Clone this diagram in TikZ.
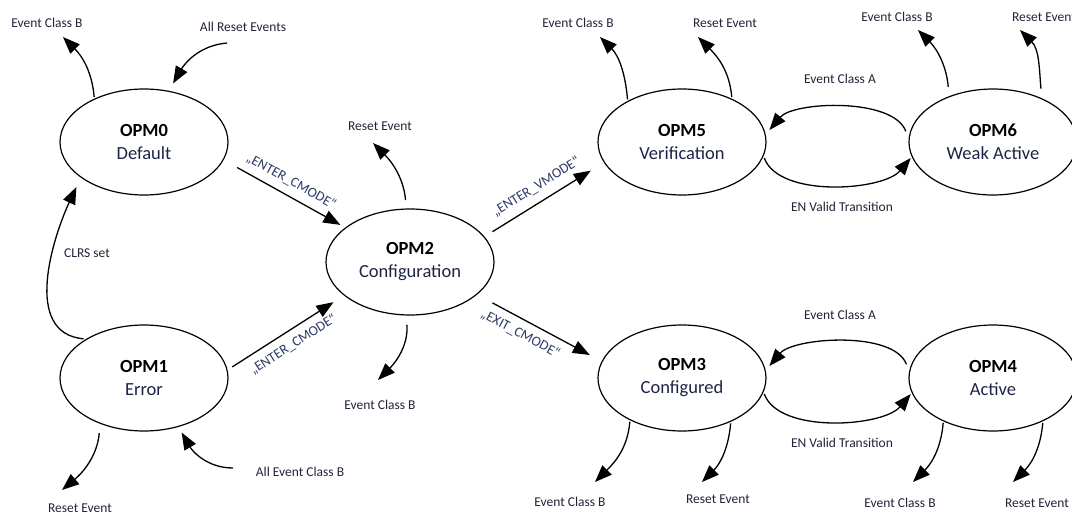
\documentclass[tikz,border=0pt]{standalone}
\usepackage{fontspec}
\setmainfont{Carlito}
\usetikzlibrary{shapes.geometric,arrows.meta}
\definecolor{lblcol}{RGB}{35,35,55}
\definecolor{quotecol}{RGB}{45,58,100}
\definecolor{namecol}{RGB}{30,35,70}
\tikzset{
    every node/.style={font=\fontsize{13.5}{16}\selectfont, text=lblcol}
}
\tikzset{
    state/.style={ellipse, draw, line width=1.2pt, minimum width=168pt,
    	minimum height=106pt, inner sep=0pt, outer sep=2pt, align=center,
    	font=\fontsize{18.5}{23}\selectfont, text=namecol}
}
\tikzset{
    every edge/.append style={line width=1.3pt, -{Triangle[length=17pt,width=13pt]}}
}
\tikzset{
	cmd/.style={sloped, font=\fontsize{14}{16}\selectfont, text=quotecol}
}

\begin{document}
\begin{tikzpicture}[x=1pt, y=-1pt]
	\useasboundingbox (0,0) rectangle (1072,515);
	\node (opm0) [state] at (144,142) {\textcolor{black}{\textbf{OPM0}}\\Default};
	\node (opm1) [state] at (144,378) {\textcolor{black}{\textbf{OPM1}}\\Error};
	\node (opm2) [state] at (410,262) {\textcolor{black}{\textbf{OPM2}}\\Configuration};
	\node (opm5) [state] at (682,142) {\textcolor{black}{\textbf{OPM5}}\\Verification};
	\node (opm6) [state] at (993,142) {\textcolor{black}{\textbf{OPM6}}\\Weak Active};
	\node (opm3) [state] at (682,378) {\textcolor{black}{\textbf{OPM3}}\\Configured};
	\node (opm4) [state] at (993,378) {\textcolor{black}{\textbf{OPM4}}\\Active};

	% free ends of the event arrows
	\coordinate (ecb0) at (63,37);   \coordinate (rst0) at (227,43);
	\coordinate (rst1) at (62,490);  \coordinate (aecb1) at (233,468);
	\coordinate (rst2) at (373,143); \coordinate (ecb2) at (378,380);
	\coordinate (ecb5) at (600,37);  \coordinate (rst5) at (698,37);
	\coordinate (ecb6) at (918,30);  \coordinate (rst6) at (1020,30);
	\coordinate (ecb3) at (595,482); \coordinate (rst3) at (702,482);
	\coordinate (ecb4) at (913,482); \coordinate (rst4) at (1013,482);

	\node (ecb0l) at (47,23) {Event Class B};
	\node (rst0l) at (243,27) {All Reset Events};
	\node (clrsl) at (87,253) {CLRS set};
	\node (rst1l) at (80,508) {Reset Event};
	\node (aecb1l) at (300,472) {All Event Class B};
	\node (rst2l) at (380,126) {Reset Event};
	\node (ecb2l) at (380,405) {Event Class B};
	\node (ecb5l) at (578,23) {Event Class B};
	\node (rst5l) at (725,23) {Reset Event};
	\node (ecb6l) at (897,17) {Event Class B};
	\node (rst6l) at (1044,17) {Reset Event};
	\node (eca5l) at (840,79) {Event Class A};
	\node (env5l) at (842,207) {EN Valid Transition};
	\node (eca3l) at (840,315) {Event Class A};
	\node (env3l) at (842,443) {EN Valid Transition};
	\node (ecb3l) at (570,502) {Event Class B};
	\node (rst3l) at (718,499) {Reset Event};
	\node (ecb4l) at (900,503) {Event Class B};
	\node (rst4l) at (1037,503) {Reset Event};

	\draw (opm0.138) edge [out=95, in=-45] (ecb0);
	\draw (rst0) edge [out=185, in=60, shorten >=7pt] (opm0.64);
	\draw (opm1.147) edge [out=175, in=245, shorten >=9pt] (opm0.210);
	\draw (opm0.-13) edge [shorten <=14pt, shorten >=4pt] node [cmd, above=4pt] {„ENTER\_CMODE“} (opm2.152);
	\draw (opm1.6) edge [shorten <=4pt, shorten >=11pt] node [cmd, below=4pt] {„ENTER\_CMODE“} (opm2.207);
	\draw (opm1.227) edge [out=-95, in=40, shorten <=8pt] (rst1);
	\draw (aecb1) edge [out=180, in=-60, shorten >=5pt] (opm1.-55);
	\draw (opm2.94) edge [out=95, in=-45, shorten <=7pt] (rst2);
	\draw (opm2.266) edge [out=-85, in=45, shorten <=8pt] (ecb2);
	\draw (opm2.19) edge [shorten <=8pt, shorten >=14pt] node [cmd, above=5pt] {„ENTER\_VMODE“} (opm5.195);
	\draw (opm2.-26) edge [shorten <=16pt, shorten >=12pt] node [cmd, below=4pt, pos=0.4] {„EXIT\_CMODE“} (opm3.168);
	\draw (opm5.142) edge [out=95, in=-45] (ecb5);
	\draw (opm5.42) edge [out=95, in=-45] (rst5);
	\draw (opm6.176) edge [out=110, in=50, looseness=0.75, shorten <=5pt, shorten >=4pt] (opm5.6);
	\draw (opm5.-11) edge [out=-70, in=-130, looseness=0.75] (opm6.191);
	\draw (opm6.133) edge [out=95, in=-45, shorten <=8pt] (ecb6);
	\draw (opm6.43) edge [out=95, in=-45, shorten <=8pt] (rst6);
	\draw (opm3.220) edge [out=-95, in=45] (ecb3);
	\draw (opm3.-43) edge [out=-95, in=45] (rst3);
	\draw (opm4.174) edge [out=110, in=50, looseness=0.75, shorten <=5pt, shorten >=4pt] (opm3.6);
	\draw (opm3.-11) edge [out=-70, in=-130, looseness=0.75] (opm4.191);
	\draw (opm4.222) edge [out=-95, in=45] (ecb4);
	\draw (opm4.-42) edge [out=-95, in=45] (rst4);
\end{tikzpicture}
\end{document}
